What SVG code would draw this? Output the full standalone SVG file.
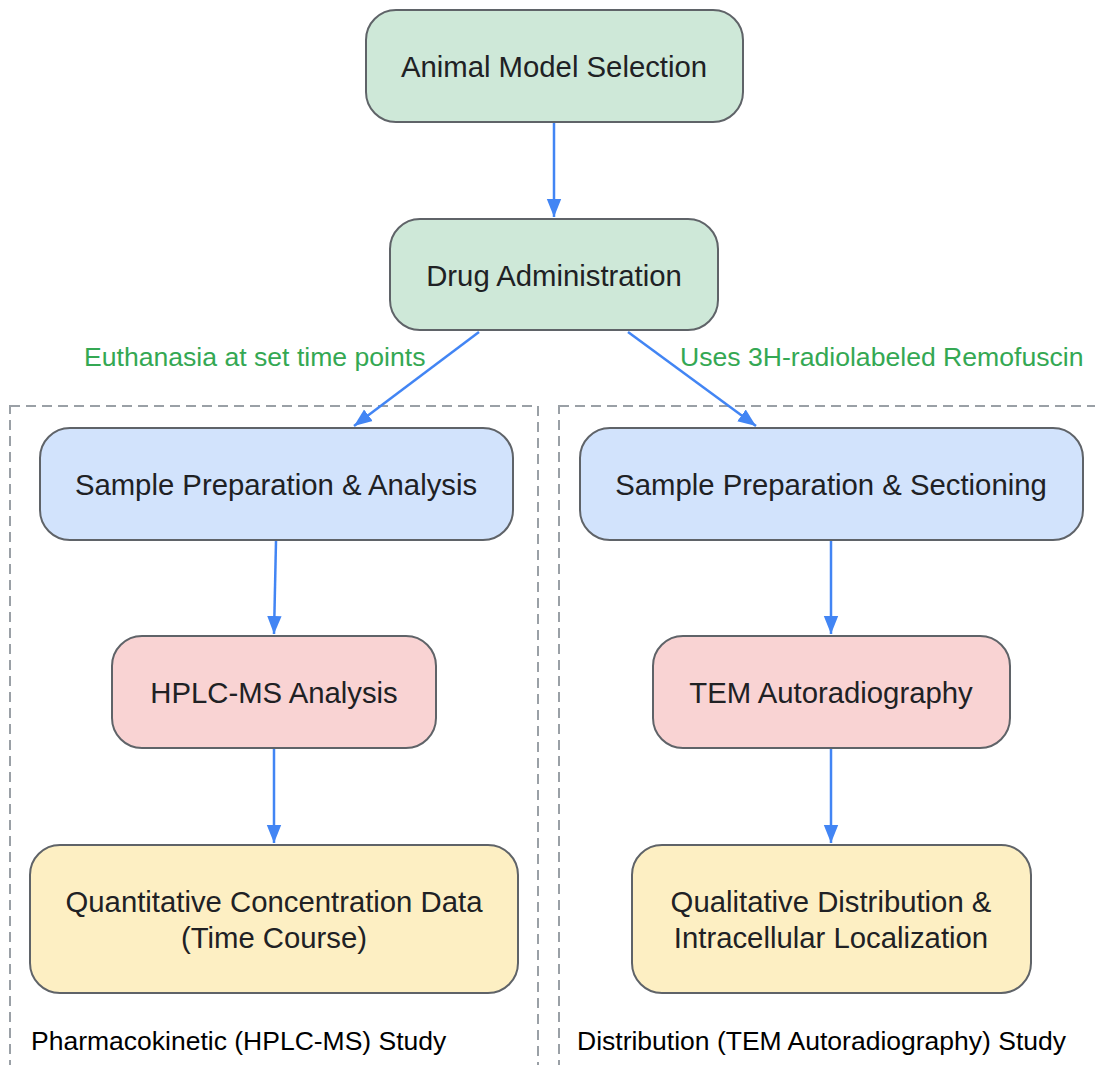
<svg xmlns="http://www.w3.org/2000/svg" width="1095" height="1065" viewBox="0 0 1095 1065">
<defs>
<style>
.node rect{stroke:#5f6368;stroke-width:2}
.green rect{fill:#cee8d8}
.blue rect{fill:#d2e3fc}
.red rect{fill:#f9d3d3}
.yellow rect{fill:#fdefc3}
.node text{font-family:"Liberation Sans",Arial,sans-serif;font-size:29.3px;fill:#202124;text-anchor:middle;dominant-baseline:central}
.cluster rect{fill:none;stroke:#9aa0a6;stroke-width:2;stroke-dasharray:10,6}
.cluster text{font-family:"Liberation Sans",Arial,sans-serif;font-size:26.5px;fill:#000}
.edges line{stroke:#4285f4;stroke-width:2.5;marker-end:url(#arr)}
.elabel{font-family:"Liberation Sans",Arial,sans-serif;font-size:26.6px;fill:#34a853}
</style>
<marker id="arr" viewBox="0 0 10 10" refX="10" refY="5" markerUnits="userSpaceOnUse" markerWidth="18" markerHeight="18" orient="auto">
<path d="M0,1 L10,5 L0,9 z" fill="#4285f4"/>
</marker>
</defs>
<rect width="1095" height="1065" fill="#fff"/>
<g id="cluster-pk" class="cluster">
<rect x="10" y="406" width="528" height="700"/>
<text x="31" y="1050">Pharmacokinetic (HPLC-MS) Study</text>
</g>
<g id="cluster-dist" class="cluster">
<rect x="559" y="406" width="600" height="700"/>
<text x="577" y="1050">Distribution (TEM Autoradiography) Study</text>
</g>
<g id="edges" class="edges">
<line x1="554" y1="123" x2="554" y2="217"/>
<line x1="479" y1="332" x2="354" y2="426"/>
<line x1="628" y1="332" x2="756" y2="426"/>
<line x1="276" y1="541" x2="274" y2="634"/>
<line x1="274" y1="749" x2="274" y2="843"/>
<line x1="831" y1="541" x2="831" y2="634"/>
<line x1="831" y1="749" x2="831" y2="843"/>
</g>
<text class="elabel" x="84" y="366">Euthanasia at set time points</text>
<text class="elabel" x="680" y="366">Uses 3H-radiolabeled Remofuscin</text>
<g id="animal" class="node green">
<rect x="366" y="10" width="377" height="112" rx="30"/>
<text x="554" y="66">Animal Model Selection</text>
</g>
<g id="drug" class="node green">
<rect x="390" y="219" width="328" height="111" rx="30"/>
<text x="554" y="275">Drug Administration</text>
</g>
<g id="prep-a" class="node blue">
<rect x="40" y="428" width="473" height="112" rx="30"/>
<text x="276" y="484">Sample Preparation &amp; Analysis</text>
</g>
<g id="hplc" class="node red">
<rect x="112" y="636" width="324" height="112" rx="30"/>
<text x="274" y="692">HPLC-MS Analysis</text>
</g>
<g id="quant" class="node yellow">
<rect x="30" y="845" width="488" height="148" rx="30"/>
<text x="274" y="901">Quantitative Concentration Data</text>
<text x="274" y="937">(Time Course)</text>
</g>
<g id="prep-s" class="node blue">
<rect x="580" y="428" width="503" height="112" rx="30"/>
<text x="831" y="484">Sample Preparation &amp; Sectioning</text>
</g>
<g id="tem" class="node red">
<rect x="653" y="636" width="357" height="112" rx="30"/>
<text x="831" y="692">TEM Autoradiography</text>
</g>
<g id="qual" class="node yellow">
<rect x="632" y="845" width="399" height="148" rx="30"/>
<text x="831" y="901">Qualitative Distribution &amp;</text>
<text x="831" y="937">Intracellular Localization</text>
</g>
</svg>
